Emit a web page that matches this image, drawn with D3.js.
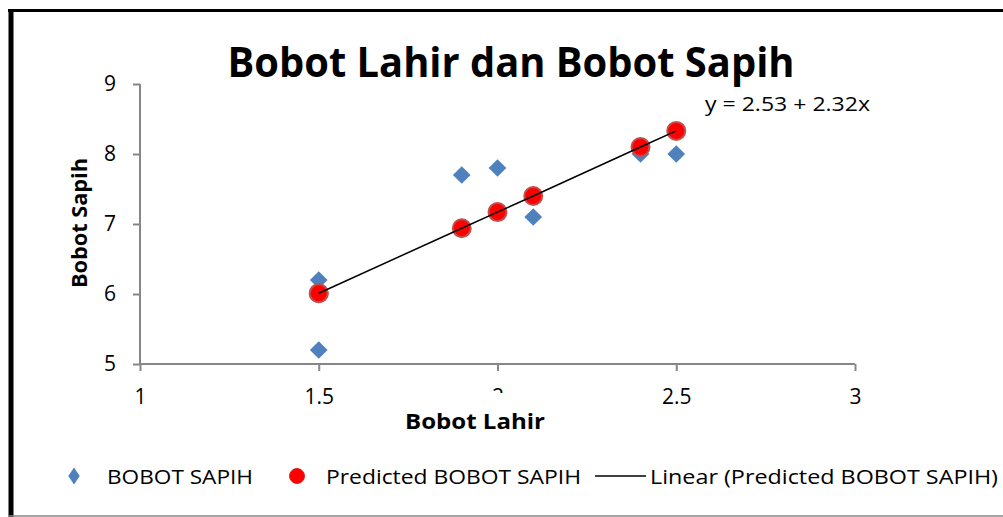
<!DOCTYPE html>
<html>
<head>
<meta charset="utf-8">
<script src="https://cdn.jsdelivr.net/npm/d3@7"></script>
<style>
  body { margin: 0; background: #fff; }
  svg { display: block; font-family: "Open Sans", Lato, sans-serif; }
</style>
</head>
<body>
<div id="container"></div>
<script>
/* DATA */
const bobotLahir = [1.5, 1.5, 1.9, 2.0, 2.1, 2.4, 2.5];
const bobotSapih = [6.2, 5.2, 7.7, 7.8, 7.1, 8.0, 8.0];
const predictedSapih = [6.01, 6.01, 6.94, 7.17, 7.40, 8.10, 8.33];
const xTicks = [1, 1.5, 2, 2.5, 3];
const yTicks = [5, 6, 7, 8, 9];
const legendLabels = ["BOBOT SAPIH", "Predicted BOBOT SAPIH", "Linear (Predicted BOBOT SAPIH)"];
const equationLabel = "y = 2.53 + 2.32x";

/* CONSTANTS */
const width = 1003, height = 517;
const plot = { left: 140, right: 855, top: 84, bottom: 364 };
const axisColor = "#868686";
const font = "'Open Sans', Lato, sans-serif";

const svg = d3.select("#container")
  .append("svg")
  .attr("width", width)
  .attr("height", height);

// FRAME
svg.append("line").attr("x1", 8).attr("x2", width).attr("y1", 10.5).attr("y2", 10.5)
  .attr("stroke", "#000").attr("stroke-width", 3);
svg.append("line").attr("x1", 11).attr("x2", 11).attr("y1", 9).attr("y2", height)
  .attr("stroke", "#000").attr("stroke-width", 5);
svg.append("line").attr("x1", 8).attr("x2", width).attr("y1", 516).attr("y2", 516)
  .attr("stroke", axisColor).attr("stroke-width", 1.5);

// SCALES
const xScale = d3.scaleLinear().domain([1, 3]).range([plot.left, plot.right]);
const yScale = d3.scaleLinear().domain([5, 9]).range([plot.bottom, plot.top]);

// AXES
const xAxis = d3.axisBottom(xScale).tickValues(xTicks).tickSize(7).tickPadding(18)
  .tickFormat(d3.format("~g"));
const yAxis = d3.axisLeft(yScale).tickValues(yTicks).tickSize(7).tickPadding(17)
  .tickFormat(d3.format("~g"));

const xg = svg.append("g")
  .attr("transform", `translate(0, ${plot.bottom})`)
  .call(xAxis);
const yg = svg.append("g")
  .attr("transform", `translate(${plot.left}, 0)`)
  .call(yAxis);

[xg, yg].forEach(g => {
  g.select(".domain").attr("stroke", axisColor).attr("stroke-width", 2);
  g.selectAll(".tick line").attr("stroke", axisColor).attr("stroke-width", 2);
  g.selectAll(".tick text").attr("fill", "#000").attr("font-size", 21)
    .attr("font-family", font);
});
xg.select(".domain").attr("d", `M${plot.left},0H${plot.right}`);
yg.select(".domain").attr("d", `M0,${plot.top}V${plot.bottom}`);

// AXIS TITLES (white box hides most of the "2" tick, as in the original)
svg.append("rect")
  .attr("x", 440).attr("y", 393).attr("width", 120).attr("height", 42)
  .attr("fill", "#fff");
svg.append("text")
  .attr("x", 475).attr("y", 429)
  .attr("text-anchor", "middle")
  .attr("font-size", 22).attr("font-weight", "bold")
  .attr("textLength", 140).attr("lengthAdjust", "spacingAndGlyphs")
  .text("Bobot Lahir");

svg.append("text")
  .attr("transform", `translate(87, 223) rotate(-90)`)
  .attr("text-anchor", "middle")
  .attr("font-size", 22).attr("font-weight", "bold")
  .attr("textLength", 130).attr("lengthAdjust", "spacingAndGlyphs")
  .text("Bobot Sapih");

// TITLE
svg.append("text")
  .attr("x", 511).attr("y", 77)
  .attr("text-anchor", "middle")
  .attr("font-size", 42).attr("font-weight", "bold")
  .attr("textLength", 567).attr("lengthAdjust", "spacingAndGlyphs")
  .text("Bobot Lahir dan Bobot Sapih");

// TRENDLINE
const lineGen = d3.line()
  .x((d, i) => xScale(bobotLahir[i]))
  .y(d => yScale(d));

// DIAMONDS
const diamond = d3.symbol().type(d3.symbolDiamond2).size(200);
svg.append("g").selectAll("path")
  .data(bobotSapih)
  .join("path")
  .attr("d", diamond)
  .attr("transform", (d, i) => `translate(${xScale(bobotLahir[i])}, ${yScale(d)})`)
  .attr("fill", "#4f81bd");

// PREDICTED CIRCLES
svg.append("g").selectAll("circle")
  .data(predictedSapih)
  .join("circle")
  .attr("cx", (d, i) => xScale(bobotLahir[i]))
  .attr("cy", d => yScale(d))
  .attr("r", 9)
  .attr("fill", "#ff0000")
  .attr("stroke", "#c0504d")
  .attr("stroke-width", 2);

svg.append("path")
  .datum(predictedSapih)
  .attr("d", lineGen)
  .attr("fill", "none")
  .attr("stroke", "#000")
  .attr("stroke-width", 1.5);

// EQUATION
svg.append("text")
  .attr("x", 705).attr("y", 111)
  .attr("font-size", 20)
  .attr("textLength", 165).attr("lengthAdjust", "spacingAndGlyphs")
  .text(equationLabel);

// LEGEND
const ly = 476;
svg.append("path")
  .attr("d", d3.symbol().type(d3.symbolDiamond2).size(130))
  .attr("transform", `translate(74, ${ly}) scale(0.8, 1.2)`)
  .attr("fill", "#4f81bd");
svg.append("text").attr("x", 107).attr("y", ly + 8).attr("font-size", 20)
  .attr("textLength", 146).attr("lengthAdjust", "spacingAndGlyphs")
  .text(legendLabels[0]);

svg.append("circle")
  .attr("cx", 297).attr("cy", ly).attr("r", 7.5)
  .attr("fill", "#ff0000").attr("stroke", "#e02020").attr("stroke-width", 1);
svg.append("text").attr("x", 326).attr("y", ly + 8).attr("font-size", 20)
  .attr("textLength", 255).attr("lengthAdjust", "spacingAndGlyphs")
  .text(legendLabels[1]);

svg.append("line")
  .attr("x1", 595).attr("x2", 646).attr("y1", ly).attr("y2", ly)
  .attr("stroke", "#000").attr("stroke-width", 1.5);
svg.append("text").attr("x", 650).attr("y", ly + 8).attr("font-size", 20)
  .attr("textLength", 348).attr("lengthAdjust", "spacingAndGlyphs")
  .text(legendLabels[2]);
</script>
</body>
</html>
